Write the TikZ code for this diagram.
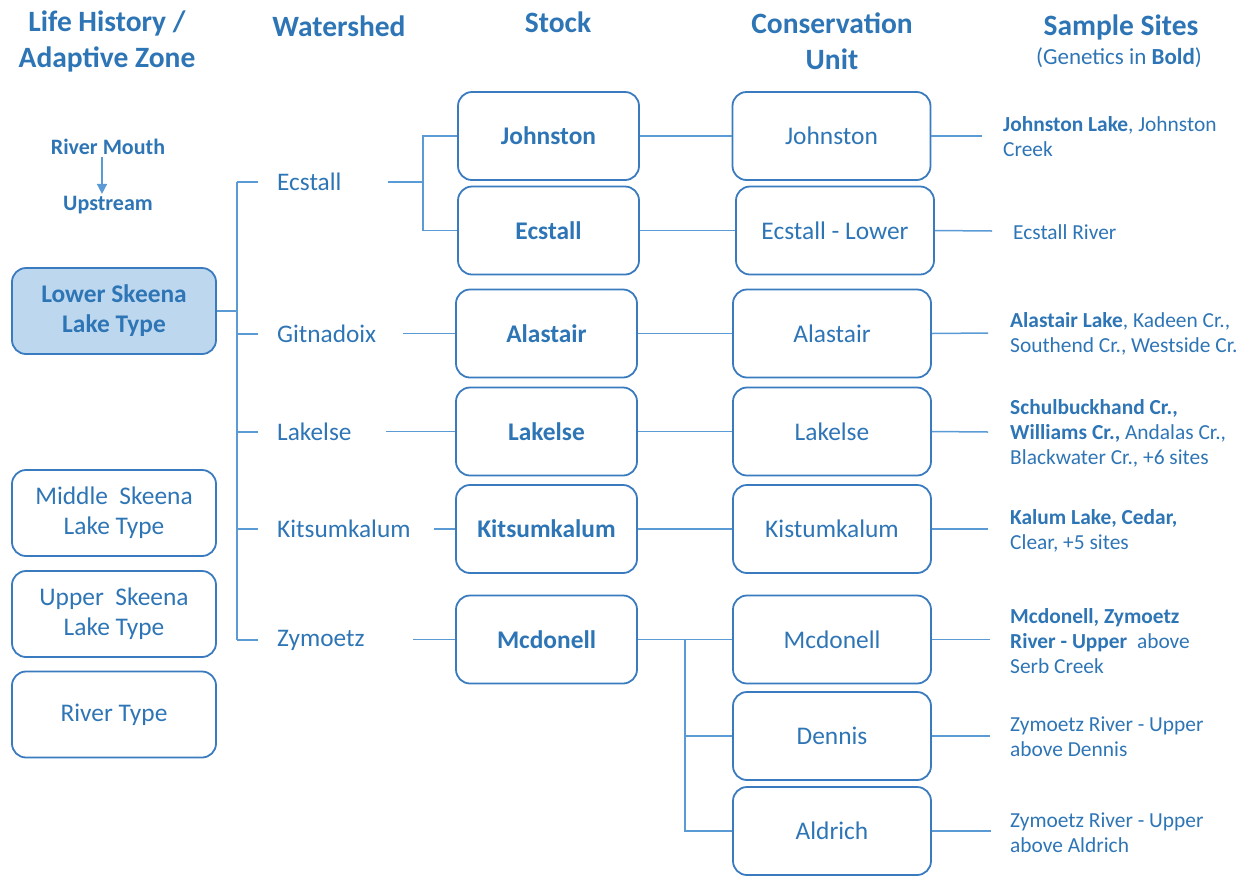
\documentclass[tikz,border=0pt]{standalone}
\usepackage{fontspec}
\setmainfont{Carlito}
\usetikzlibrary{arrows.meta}
\definecolor{txtblue}{HTML}{2E75B6}
\definecolor{edgeblue}{HTML}{3A7BC0}
\definecolor{linkblue}{HTML}{5B9BD5}
\definecolor{fillblue}{HTML}{BDD7EE}
\begin{document}
\begin{tikzpicture}[x=1pt,y=-1pt,
  every node/.style={text=txtblue},
  head/.style={font=\fontsize{29.5}{36}\selectfont\bfseries, align=center, inner sep=0pt},
  rbox/.style={draw=edgeblue, line width=1.8pt, rounded corners=14pt, align=center, inner sep=0pt, font=\fontsize{25.4}{30}\selectfont},
  stockbox/.style={rbox, minimum width=181pt, minimum height=88pt, font=\fontsize{25.4}{30}\selectfont\bfseries},
  cubox/.style={rbox, minimum width=198pt, minimum height=88pt},
  zonebox/.style={rbox, minimum width=204pt, minimum height=86pt},
  wlabel/.style={anchor=west, inner xsep=19pt, inner ysep=2pt, font=\fontsize{25.3}{30}\selectfont},
  site/.style={anchor=west, align=left, inner sep=0pt, font=\fontsize{21.4}{25}\selectfont},
  link/.style={draw=linkblue, line width=1.5pt},
  arr/.style={draw=linkblue, line width=1.5pt, -{Triangle[width=10pt,length=10pt]}},
]
\useasboundingbox (0,0) rectangle (1250,876);

% column headings
\node[head] (hLife) at (107,41) {Life History /\\Adaptive Zone};
\node[head] (hWat) at (339,26) {Watershed};
\node[head] (hStock) at (558,22) {Stock};
\node[head] (hCU) at (832,41) {Conservation\\Unit};
\node[head] (hSite) at (1121,27) {Sample Sites};
\node[inner sep=0pt, font=\fontsize{23}{28}\selectfont] (hGen) at (1119,58) {(Genetics in \textbf{Bold})};

% direction hint
\node[inner sep=2pt, font=\fontsize{22}{26}\selectfont\bfseries] (rm) at (108,147) {River Mouth};
\node[inner sep=2pt, font=\fontsize{22}{26}\selectfont\bfseries] (up) at (108,205) {Upstream};
\draw[arr] ([xshift=-6pt]rm.south) -- ([xshift=-6pt]up.north);

% life history / adaptive zones
\node[zonebox, fill=fillblue, font=\fontsize{25.4}{30}\selectfont\bfseries] (zLow) at (114,311) {Lower Skeena\\Lake Type};
\node[zonebox] (zMid) at (114,513) {Middle\ \ Skeena\\Lake Type};
\node[zonebox] (zUp) at (114,614) {Upper\ \ Skeena\\Lake Type};
\node[zonebox] (zRiv) at (114,714.5) {River Type};

% watersheds
\node[wlabel] (wEcs) at (258,182) {Ecstall};
\node[wlabel] (wGit) at (258,334) {Gitnadoix};
\node[wlabel] (wLak) at (258,432) {Lakelse};
\node[wlabel] (wKit) at (258,529) {Kitsumkalum};
\node[wlabel] (wZym) at (258,640) {Zymoetz};

% stocks
\node[stockbox] (sJoh) at (548.5,136) {Johnston};
\node[stockbox] (sEcs) at (548.5,230.5) {Ecstall};
\node[stockbox] (sAla) at (546.5,333.5) {Alastair};
\node[stockbox] (sLak) at (546.5,431.5) {Lakelse};
\node[stockbox] (sKit) at (546.5,529) {Kitsumkalum};
\node[stockbox] (sMcd) at (546.5,639.5) {Mcdonell};

% conservation units
\node[cubox] (cJoh) at (831.5,136) {Johnston};
\node[cubox] (cEcs) at (835,230.5) {Ecstall - Lower};
\node[cubox] (cAla) at (832,333.5) {Alastair};
\node[cubox] (cLak) at (832,431.5) {Lakelse};
\node[cubox] (cKit) at (832,529) {Kistumkalum};
\node[cubox] (cMcd) at (832,639.5) {Mcdonell};
\node[cubox] (cDen) at (832,736) {Dennis};
\node[cubox] (cAld) at (832,831) {Aldrich};

% sample sites
\node[site] (pJoh) at (1003,137) {\textbf{Johnston Lake}, Johnston\\Creek};
\node[site] (pEcs) at (1013,232) {Ecstall River};
\node[site] (pAla) at (1010,334) {\textbf{Alastair Lake}, Kadeen Cr.,\\Southend Cr., Westside Cr.};
\node[site] (pLak) at (1010,433) {\textbf{Schulbuckhand Cr.,}\\\textbf{Williams Cr.,} Andalas Cr.,\\Blackwater Cr., +6 sites};
\node[site] (pKit) at (1010,531) {\textbf{Kalum Lake, Cedar,}\\Clear, +5 sites};
\node[site] (pMcd) at (1010,641) {\textbf{Mcdonell, Zymoetz}\\\textbf{River - Upper}\ \ above\\Serb Creek};
\node[site] (pDen) at (1010,737) {Zymoetz River - Upper\\above Dennis};
\node[site] (pAld) at (1010,833) {Zymoetz River - Upper\\above Aldrich};

% trunk from the lower Skeena zone to the watersheds
\coordinate (tTop) at (237,182);
\coordinate (tBot) at (237,640);
\draw[link] (tTop) -- (tBot);
\draw[link] (zLow.east) -- (zLow.east -| tTop);
\foreach \w in {wEcs,wGit,wLak,wKit,wZym}
  \draw[link] (\w.west -| tTop) -- (\w.west);

% watershed to stock
\coordinate (eA) at (388,182);
\coordinate (eB) at (423,182);
\draw[link] (eA) -- (eB);
\draw[link] (sJoh.west) -| (eB) |- (sEcs.west);
\coordinate (gA) at (403,333.5);
\draw[link] (gA) -- (sAla.west);
\coordinate (lA) at (386,431.5);
\draw[link] (lA) -- (sLak.west);
\coordinate (kA) at (434,529);
\draw[link] (kA) -- (sKit.west);
\coordinate (zA) at (413,639.5);
\draw[link] (zA) -- (sMcd.west);

% stock to conservation unit
\draw[link] (sJoh.east) -- (cJoh.west);
\draw[link] (sEcs.east) -- (cEcs.west);
\draw[link] (sAla.east) -- (cAla.west);
\draw[link] (sLak.east) -- (cLak.west);
\draw[link] (sKit.east) -- (cKit.west);
\draw[link] (sMcd.east) -- (cMcd.west);
\coordinate (mB) at (685,639.5);
\draw[link] (mB) |- (cDen.west);
\draw[link] (mB) |- (cAld.west);

% conservation unit to sample sites
\coordinate (qJoh) at (982,136);
\coordinate (qEcs) at (992,231);
\coordinate (qAla) at (988,333);
\coordinate (qLak) at (988,432);
\coordinate (qKit) at (988,529);
\coordinate (qMcd) at (990,639.5);
\coordinate (qDen) at (990,736);
\coordinate (qAld) at (991,831);
\draw[link] (cJoh.east) -- (qJoh);
\draw[link] (cEcs.east) -- (qEcs);
\draw[link] (cAla.east) -- (qAla);
\draw[link] (cLak.east) -- (qLak);
\draw[link] (cKit.east) -- (qKit);
\draw[link] (cMcd.east) -- (qMcd);
\draw[link] (cDen.east) -- (qDen);
\draw[link] (cAld.east) -- (qAld);
\end{tikzpicture}
\end{document}
